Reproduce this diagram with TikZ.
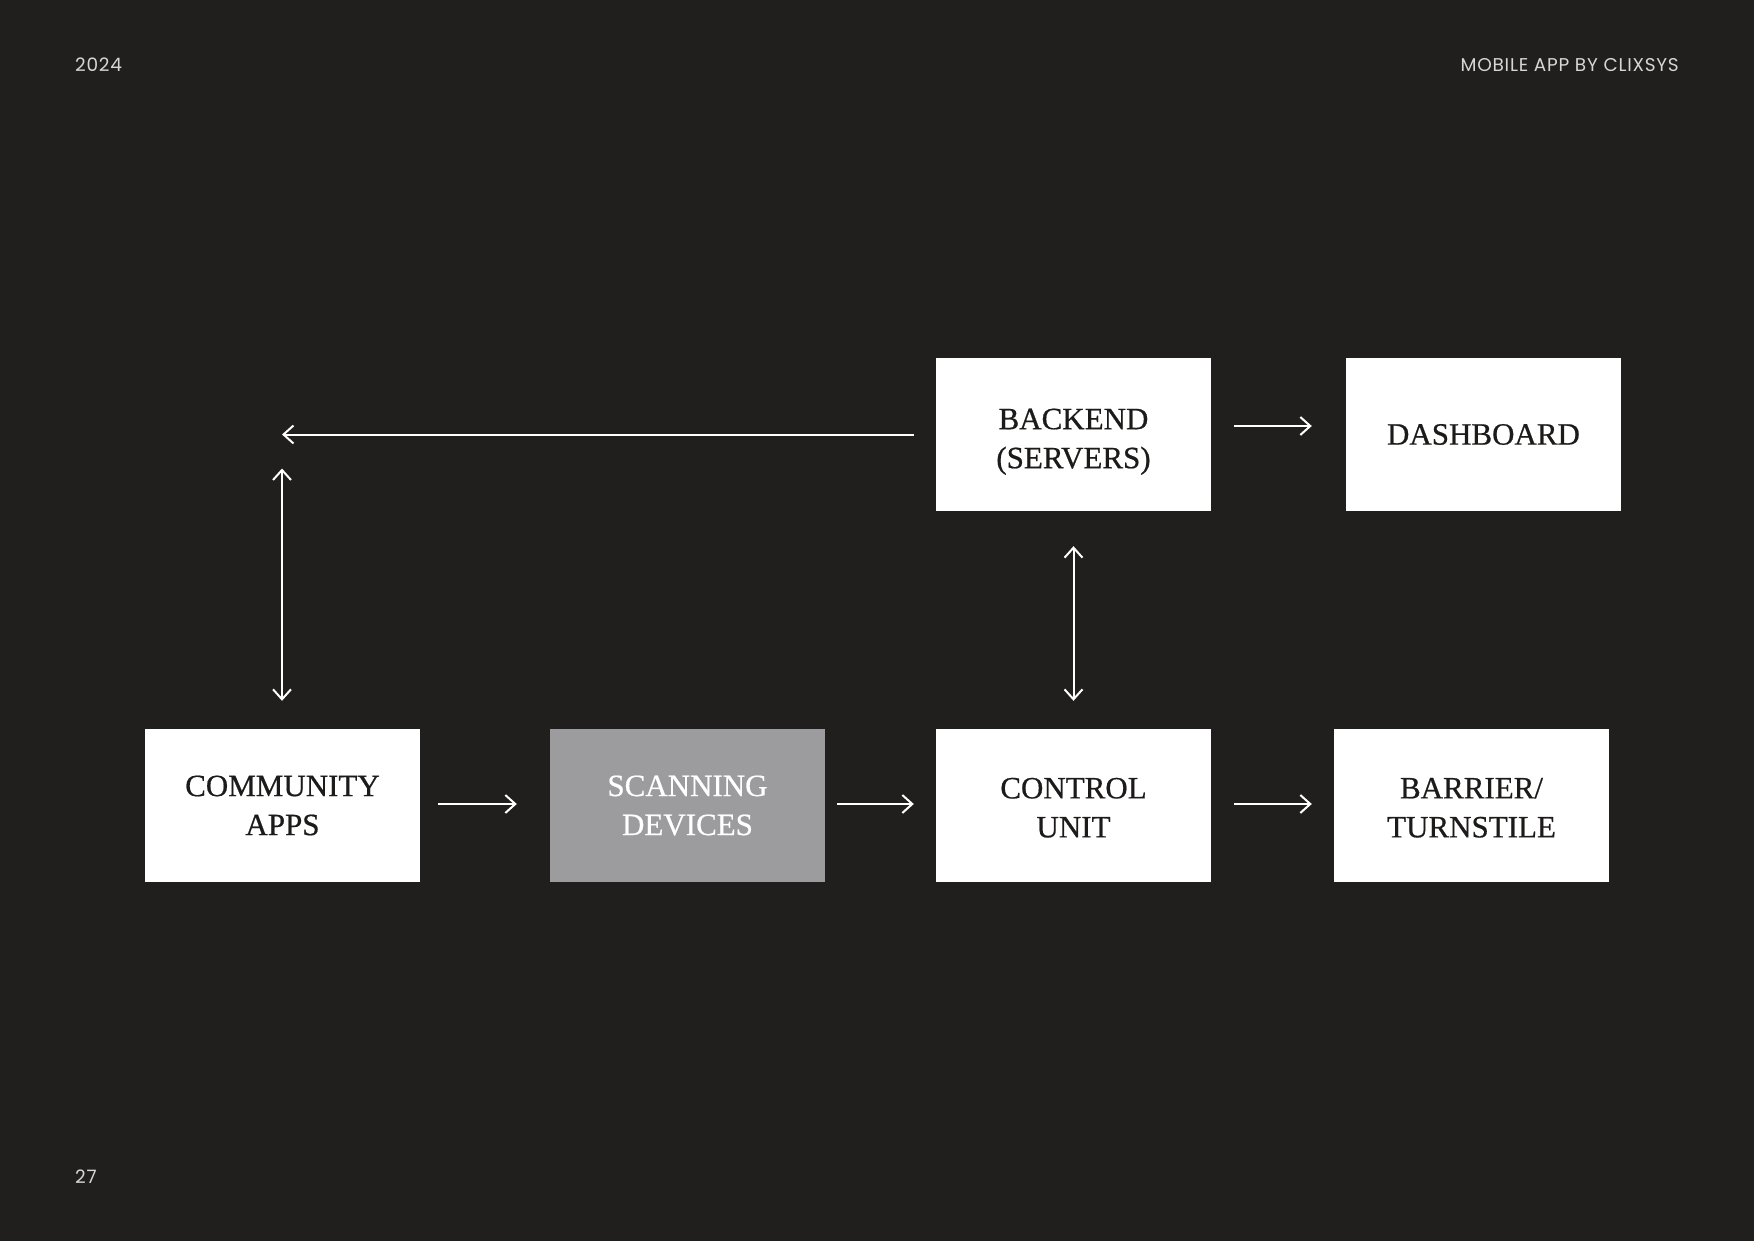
\documentclass[tikz,border=0pt]{standalone}
\usepackage{fontspec}
\setmainfont{Liberation Serif}[FakeBold=0.6]
\newfontfamily\hdrfont{Poppins}[LetterSpace=4]
\usetikzlibrary{arrows.meta}
\definecolor{bgc}{HTML}{201F1D}
\definecolor{grayc}{HTML}{9C9C9E}
\definecolor{inkc}{HTML}{1C1B1A}
\definecolor{hdrc}{HTML}{D6D6D6}
\begin{document}
\begin{tikzpicture}[x=1pt,y=-1pt,
  box/.style={draw=none,fill=white,minimum width=275pt,minimum height=153pt,inner sep=0pt,
    align=center,text=inkc,font=\fontsize{31}{39}\selectfont},
  grbox/.style={box,fill=grayc,text=white},
  arr/.style={draw=white,line width=2pt,-{Straight Barb[length=10pt,width=18pt,line width=2pt]}},
  arrtwo/.style={arr,{Straight Barb[length=10pt,width=18pt,line width=2pt]}-{Straight Barb[length=10pt,width=18pt,line width=2pt]}},
  hdr/.style={text=hdrc,font=\hdrfont\fontsize{18.5}{20}\selectfont,inner sep=0pt}]
\useasboundingbox (0,0) rectangle (1754,1241);
\fill[bgc] (0,0) rectangle (1754,1241);
\node[hdr,anchor=base west] (yr) at (75,72) {2024};
\node[hdr,anchor=base east] (ttl) at (1679,72) {MOBILE APP BY CLIXSYS};
\node[hdr,anchor=base west] (pg) at (75,1183) {27};
\node[box] (back) at (1073.5,434.5) {\rule{0pt}{35pt}BACKEND\\(SERVERS)};
\node[box] (dash) at (1483.5,434.5) {DASHBOARD};
\node[box] (comm) at (282.5,805.5) {COMMUNITY\\APPS};
\node[grbox] (scan) at (687.5,805.5) {SCANNING\\DEVICES};
\node[box] (ctrl) at (1073.5,805.5) {\rule{0pt}{25pt}CONTROL\\UNIT};
\node[box] (barr) at (1471.5,805.5) {\rule{0pt}{25pt}BARRIER/\\TURNSTILE};
\coordinate (corner) at (282,434.5);
\draw[arr,shorten <=22pt] (back.west) -- (corner);
\draw[arrtwo,shorten <=34pt,shorten >=28pt] (corner) -- (comm.north -| corner);
\draw[arr,shorten <=23pt,shorten >=34pt] ([yshift=8.5pt]back.east) -- ([yshift=8.5pt]dash.west);
\draw[arrtwo,shorten <=35pt,shorten >=28pt] (back.south) -- (ctrl.north);
\draw[arr,shorten <=18pt,shorten >=33pt] ([yshift=1.5pt]comm.east) -- ([yshift=1.5pt]scan.west);
\draw[arr,shorten <=12pt,shorten >=22pt] ([yshift=1.5pt]scan.east) -- ([yshift=1.5pt]ctrl.west);
\draw[arr,shorten <=23pt,shorten >=22pt] ([yshift=1.5pt]ctrl.east) -- ([yshift=1.5pt]barr.west);
\end{tikzpicture}
\end{document}
